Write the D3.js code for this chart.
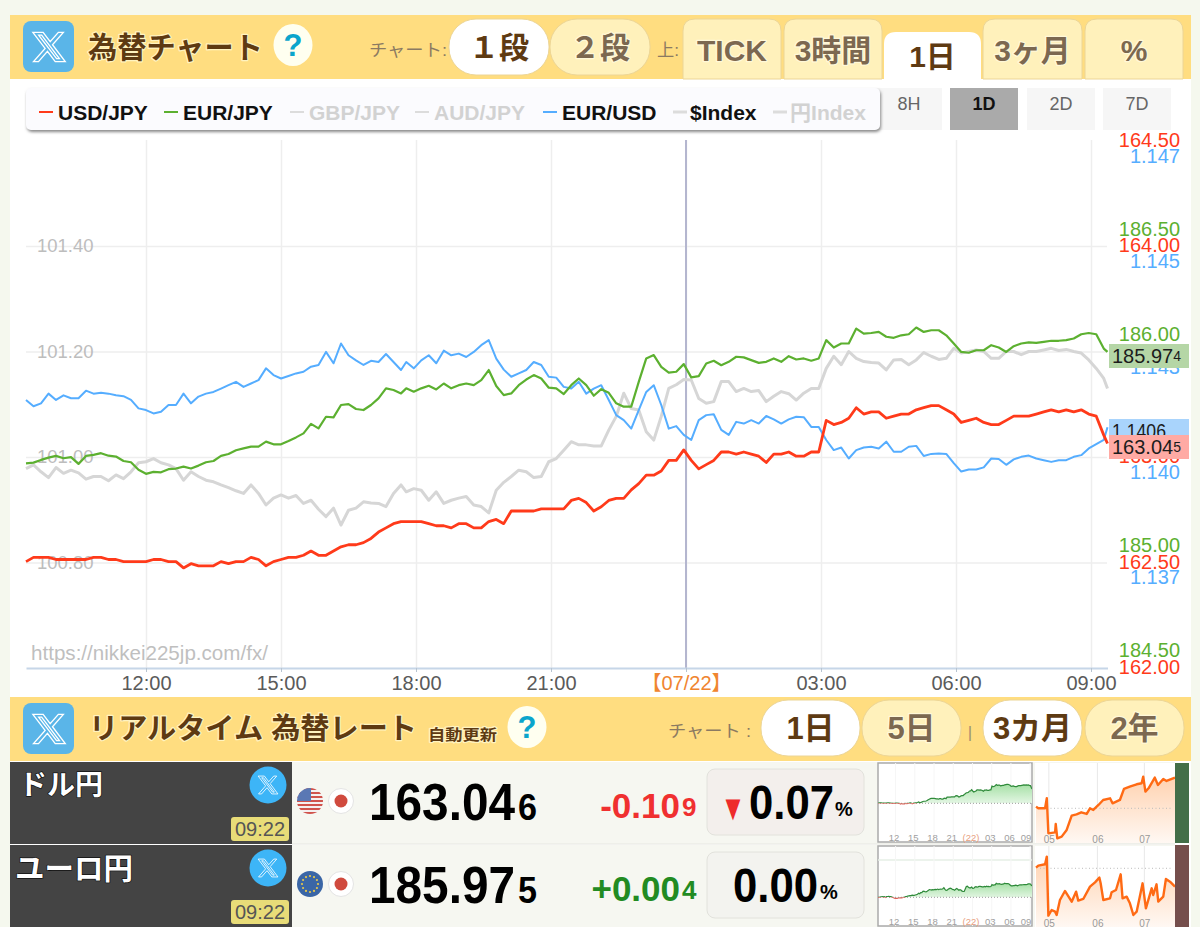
<!DOCTYPE html>
<html>
<head>
<meta charset="utf-8">
<script src="https://cdn.jsdelivr.net/npm/d3@7"></script>
<style>
  body { margin: 0; background: #f5f8ee; }
  svg { display: block; }
  text { font-family: "Liberation Sans", "Noto Sans CJK JP", sans-serif; }
</style>
</head>
<body>
<svg id="page" width="1200" height="927"></svg>
<script>
// sample times, minutes after 09:20 on 07/21
const minutes = [...d3.range(0, 510, 10), ...d3.range(507, 1037, 10), ...d3.range(1037, 1447, 10), 1442];

const usdJpy = [
  162.50,162.52,162.52,162.52,162.51,162.51,162.51,162.51,162.51,162.52,162.52,162.51,162.51,162.50,162.50,162.50,162.50,
  162.51,162.51,162.50,162.50,162.47,162.49,162.48,162.48,162.48,162.50,162.49,162.50,162.50,162.52,162.51,162.48,162.50,
  162.51,162.52,162.52,162.53,162.55,162.53,162.53,162.55,162.57,162.58,162.58,162.59,162.61,162.64,162.66,162.68,162.69,
  162.69,162.69,162.69,162.68,162.67,162.67,162.66,162.68,162.68,162.66,162.66,162.69,162.70,162.68,162.74,162.74,162.74,
  162.74,162.75,162.75,162.75,162.75,162.79,162.80,162.78,162.74,162.76,162.79,162.80,162.80,162.84,162.87,162.91,162.91,
  162.93,162.98,162.98,163.03,162.98,162.94,162.96,162.98,163.02,163.02,163.01,163.02,163.01,163.00,162.97,163.01,163.01,
  163.02,163.00,
  163.00,163.02,163.02,163.17,163.15,163.16,163.18,163.23,163.20,163.21,163.21,163.18,163.19,163.20,163.20,163.22,163.23,
  163.24,163.24,163.22,163.20,163.16,163.17,163.18,163.16,163.15,163.15,163.17,163.19,163.19,163.19,163.20,163.21,163.22,
  163.21,163.22,163.21,163.22,163.20,163.19,163.10,163.06
];

const eurJpy = [
  185.387,185.390,185.403,185.414,185.422,185.411,185.416,185.384,185.422,185.427,185.435,185.423,185.419,185.398,185.392,
  185.356,185.337,185.346,185.344,185.359,185.362,185.371,185.362,185.376,185.392,185.398,185.422,185.431,185.449,185.458,
  185.466,185.466,185.490,185.477,185.477,185.493,185.510,185.529,185.574,185.553,185.608,185.605,185.664,185.668,185.645,
  185.640,185.664,185.695,185.743,185.735,185.719,
  185.743,185.727,185.743,185.755,185.738,185.766,185.743,185.758,185.766,185.758,185.782,185.830,185.754,185.711,185.719,
  185.758,185.785,185.806,185.790,185.746,185.743,185.716,185.758,185.790,185.758,185.708,185.739,185.722,185.672,185.656,
  185.656,185.774,185.885,185.901,185.845,185.818,185.822,185.858,185.795,185.801,185.861,185.874,185.853,185.869,185.893,
  185.890,185.877,185.864,185.869,185.885,185.869,185.896,185.880,
  185.885,185.874,185.885,185.972,185.937,185.956,185.956,186.027,186.003,186.006,186.011,185.988,185.983,185.995,186.000,
  186.032,186.011,186.019,186.019,185.995,185.956,185.916,185.912,185.924,185.924,185.948,185.937,185.916,185.943,185.956,
  185.961,185.959,185.964,185.969,185.969,185.972,185.980,186.000,186.006,186.000,185.932,185.916
];

const eurUsd = [
  1.14171,1.14156,1.14163,1.14186,1.14171,1.14182,1.14175,1.14175,1.14193,1.14186,1.14188,1.14186,1.14182,1.14180,1.14171,
  1.14151,1.14147,1.14139,1.14143,1.14159,1.14159,1.14186,1.14163,1.14179,1.14186,1.14190,1.14198,1.14206,1.14214,1.14202,
  1.14210,1.14218,1.14246,1.14230,1.14222,1.14228,1.14234,1.14238,1.14250,1.14254,1.14285,1.14258,1.14305,1.14277,1.14265,
  1.14254,1.14264,1.14261,1.14280,1.14261,1.14242,
  1.14261,1.14246,1.14265,1.14277,1.14258,1.14288,1.14277,1.14281,1.14273,1.14285,1.14301,1.14313,1.14269,1.14243,1.14226,
  1.14234,1.14242,1.14261,1.14254,1.14226,1.14224,1.14202,1.14198,1.14214,1.14186,1.14198,1.14206,1.14171,1.14135,1.14123,
  1.14103,1.14147,1.14190,1.14206,1.14159,1.14103,1.14109,1.14088,1.14076,1.14123,1.14135,1.14137,1.14100,1.14088,1.14119,
  1.14115,1.14123,1.14115,1.14133,1.14125,1.14115,1.14125,1.14131,
  1.14130,1.14107,1.14107,1.14076,1.14052,1.14058,1.14032,1.14052,1.14058,1.14060,1.14056,1.14072,1.14048,1.14048,1.14060,
  1.14062,1.14038,1.14043,1.14044,1.14043,1.14021,1.14001,1.14006,1.14006,1.14011,1.14032,1.14031,1.14017,1.14030,1.14036,
  1.14039,1.14032,1.14028,1.14024,1.14028,1.14028,1.14036,1.14040,1.14056,1.14066,1.14076,1.14106
];

const dollarIndex = [
  100.978,100.985,100.972,100.961,100.980,100.969,100.975,100.970,100.958,100.963,100.963,100.955,100.966,100.959,100.972,
  100.989,100.991,100.997,100.989,100.985,100.978,100.956,100.972,100.963,100.956,100.953,100.947,100.942,100.936,100.931,
  100.947,100.931,100.909,100.922,100.928,100.922,100.927,100.912,100.918,100.901,100.887,100.903,100.871,100.899,100.903,
  100.915,100.913,100.912,100.906,100.931,100.947,
  100.934,100.940,100.937,100.918,100.934,100.912,100.918,100.922,100.925,100.909,100.906,100.894,100.937,100.952,100.963,
  100.975,100.972,100.961,100.963,100.991,100.997,101.013,101.029,101.023,101.023,101.021,101.021,101.051,101.077,101.121,
  101.092,101.089,101.048,101.032,101.077,101.130,101.137,101.147,101.146,101.111,101.102,101.105,101.143,101.143,101.124,
  101.130,101.124,101.126,101.105,101.115,101.124,101.120,101.108,
  101.121,101.130,101.130,101.168,101.191,101.175,101.200,101.187,101.181,101.179,101.178,101.165,101.184,101.185,101.175,
  101.184,101.198,101.191,101.185,101.187,101.206,101.197,101.200,101.203,101.200,101.187,101.187,101.200,101.200,101.194,
  101.200,101.200,101.203,101.206,101.202,101.204,101.200,101.197,101.184,101.168,101.149,101.130
];

const hourTicks = [160, 340, 520, 700, 880, 1060, 1240, 1420];
const hourLabels = ['12:00', '15:00', '18:00', '21:00', '【07/22】', '03:00', '06:00', '09:00'];
const indexTicks = [100.8, 101.0, 101.2, 101.4];
const usdTicks = [162, 162.5, 163, 163.5, 164, 164.5];
const eurTicks = [184.5, 185, 185.5, 186, 186.5];
const eurUsdTicks = [1.1375, 1.14, 1.1425, 1.145, 1.1475];
const eurUsdLabels = ['1.137', '1.140', '1.143', '1.145', '1.147'];

const legendNames = ['USD/JPY', 'EUR/JPY', 'GBP/JPY', 'AUD/JPY', 'EUR/USD', '$Index', '円Index'];
const rangeLabels = ['8H', '1D', '2D', '7D'];
const tabLabels = ['TICK', '3時間', '1日', '3ヶ月', '%'];
const miniLabels = ['12', '15', '18', '21', '(22)', '03', '06', '09'];

// 3 month sparks: day number from 05/01 and rough % from the dotted line
const usdDays = [-7.9,-6.4,-2.1,-1,0,4.3,4.7,5.7,8.5,11.7,14.9,18,21,24.5,26.6,28.7,32,35,39.4,41,45.7,48.3,52,56.4,59.6,60.6,62,64,68,70,73.4,75.5,80.9];
const usdPct = [.25,0,0,1.5,-3.75,-3.6,-2.35,-4.5,-4.25,-3.25,-1.1,-.9,-.6,-.85,0,-.25,.5,1.25,1.5,.75,1.25,2.9,3.25,3.6,3.75,4.75,2.5,3,4.6,3.5,4.4,4.1,4.6];
const eurDays = [-7.9,-6.4,-2.1,-1,0,2.1,4.3,5.3,7.4,10.6,14.9,17.7,19.1,22.3,26.6,29.8,32.6,33.4,35.1,39.4,40.4,43.2,46.2,47.4,50,52.1,54.3,56.4,60.2,62.3,66,67,69.1,70.2,73.4,75.1,77.7,80.9];
const eurPct = [.1,.4,.6,1.75,-7.1,-6.25,-6.5,-7,-4.75,-3.4,-5,-3.5,-4.85,-4.6,-2.75,-2.1,-1.4,-2.25,-4.75,-4.5,-3.6,-3.25,-.9,-4.5,-4.25,-5.25,-7,-6.5,-2.25,-6,-3,-4,-2.4,-5,-4.25,-1.6,-2,-2.75];
const monthTicks = [0, 31, 61];
const monthLabels = ['05', '06', '07'];

const RED = '#ff3a1a', GREEN = '#5cb030', BLUE = '#55adff', GREY = '#d6d6d6';
const BROWN = '#5e3a12', TAN = '#7c6850';
const X_PATH = 'M18.244 2.25h3.308l-7.227 8.26 8.502 11.24H16.17l-5.214-6.817L4.99 21.75H1.68l7.73-8.835L1.254 2.25H8.08l4.713 6.231zm-1.161 17.52h1.833L7.084 4.126H5.117z';

const svg = d3.select('#page');
const defs = svg.append('defs');

function label(parent, x, y, str, size, color, opts = {}) {
  const t = parent.append('text')
    .attr('x', x).attr('y', y)
    .attr('dominant-baseline', 'central')
    .attr('text-anchor', opts.anchor || 'start')
    .attr('font-size', size)
    .attr('font-weight', opts.bold ? 'bold' : 'normal')
    .attr('fill', color)
    .text(str);
  if (opts.halo) {
    t.attr('stroke', opts.halo).attr('stroke-width', opts.haloWidth || 2.5).attr('paint-order', 'stroke').attr('stroke-linejoin', 'round');
  }
  if (opts.length) {
    t.attr('textLength', opts.length).attr('lengthAdjust', 'spacingAndGlyphs');
  }
  return t;
}

function xIcon(x, y, size) {
  svg.append('path').attr('d', X_PATH).attr('fill', 'none').attr('stroke', '#fff').attr('stroke-width', 0.9)
    .attr('transform', `translate(${x},${y}) scale(${size / 24})`);
}

function pill(x, y, w, h, str, active, size) {
  svg.append('rect').attr('x', x).attr('y', y).attr('width', w).attr('height', h).attr('rx', 27)
    .attr('fill', active ? '#fff' : '#fff1bb').attr('stroke', '#ecd596');
  label(svg, x + w / 2, y + h / 2, str, size, active ? BROWN : TAN, { anchor: 'middle', bold: true, halo: active ? '#fff' : '#fff8d8' });
}

function helpBubble(cx, cy) {
  svg.append('ellipse').attr('cx', cx).attr('cy', cy).attr('rx', 19.5).attr('ry', 21).attr('fill', '#fffff0');
  label(svg, cx, cy, '?', 31, '#0ba5cc', { anchor: 'middle', bold: true });
}

// page panels
svg.append('rect').attr('x', 10).attr('y', 15).attr('width', 1181).attr('height', 912).attr('fill', '#fff');
svg.append('rect').attr('x', 10).attr('y', 15).attr('width', 1181).attr('height', 64).attr('fill', '#ffdd80');
svg.append('rect').attr('x', 10).attr('y', 697).attr('width', 1181).attr('height', 64).attr('fill', '#ffdd80');

// top header
svg.append('rect').attr('x', 23).attr('y', 21).attr('width', 51).attr('height', 51).attr('rx', 8).attr('fill', '#5ab5e8');
xIcon(31, 29, 36);
label(svg, 88, 47, '為替チャート', 30, BROWN, { bold: true, halo: '#fff3c0', length: 175 });
helpBubble(293, 45);
label(svg, 369, 50, 'チャート:', 17, '#8b7a62', { length: 78 });
pill(449, 19, 100, 56, '１段', true, 30);
pill(550, 19, 100, 56, '２段', false, 30);
label(svg, 657, 50, '上:', 17, '#8b7a62', { length: 22 });

const tabX = [683, 784, 884, 983, 1085];
const tabW = [98, 98, 97, 99, 98];
tabLabels.forEach((tab, i) => {
  const active = i === 2;
  const top = active ? 32 : 19;
  const [x, w] = [tabX[i], tabW[i]];
  svg.append('path')
    .attr('d', `M${x},79V${top + 12}Q${x},${top} ${x + 12},${top}H${x + w - 12}Q${x + w},${top} ${x + w},${top + 12}V79Z`)
    .attr('fill', active ? '#fff' : '#fff1bb').attr('stroke', active ? 'none' : '#ecd596');
  label(svg, x + w / 2, active ? 56 : 50, tab, 30, active ? BROWN : TAN, { anchor: 'middle', bold: true, halo: active ? '#fff' : '#fff8d8' });
});

// main chart
const x = d3.scaleLinear().domain([0, 1442]).range([26, 1107.5]);
const yUsd = d3.scaleLinear().domain([162, 164.5]).range([667, 140]);
const yEur = d3.scaleLinear().domain([184.5, 186.5]).range([650, 229]);
const yEurUsd = d3.scaleLinear().domain([1.14, 1.1475]).range([472, 156]);
const yIndex = d3.scaleLinear().domain([101, 101.4]).range([457, 246]);

const gridX = svg.append('g').attr('transform', 'translate(0,668)')
  .call(d3.axisBottom(x).tickValues(hourTicks).tickSize(-528).tickFormat(''));
gridX.select('.domain').remove();
gridX.selectAll('line').attr('stroke', '#eeeeee').attr('stroke-width', 1.5);

const gridY = svg.append('g').attr('transform', 'translate(26,0)')
  .call(d3.axisRight(yIndex).tickValues(indexTicks).tickSize(1081).tickFormat(''));
gridY.select('.domain').remove();
gridY.selectAll('line').attr('stroke', '#eeeeee').attr('stroke-width', 1.5);

svg.append('line').attr('x1', x(880)).attr('x2', x(880)).attr('y1', 140).attr('y2', 668)
  .attr('stroke', '#b4b6cf').attr('stroke-width', 2);

const xAxis = svg.append('g').attr('transform', 'translate(0,668)')
  .call(d3.axisBottom(x).tickValues(hourTicks).tickSize(4).tickPadding(3.5).tickSizeOuter(0)
    .tickFormat((d, i) => hourLabels[i]));
xAxis.select('.domain').attr('stroke', '#c6d6e8').attr('stroke-width', 2);
xAxis.selectAll('line').attr('stroke', '#b8c4d0');
xAxis.selectAll('text').attr('font-size', 20).attr('font-family', null)
  .attr('fill', (d, i) => i === 4 ? '#f08530' : '#5a5a5a');

const indexAxis = svg.append('g').attr('transform', 'translate(37,0)')
  .call(d3.axisRight(yIndex).tickValues(indexTicks).tickSize(0).tickPadding(0).tickFormat(d3.format('.2f')));
indexAxis.select('.domain').remove();
indexAxis.selectAll('text').attr('font-size', 18.5).attr('font-family', null).attr('fill', '#bdbdbd');

const lineOf = (values, y) => d3.line().x((d, i) => x(minutes[i])).y(d => y(d))(values);
const mainLines = [
  [dollarIndex, yIndex, GREY, 3],
  [eurUsd, yEurUsd, BLUE, 2],
  [eurJpy, yEur, GREEN, 2.2],
  [usdJpy, yUsd, RED, 2.8]
];
mainLines.forEach(([values, y, color, width]) => {
  svg.append('path').attr('d', lineOf(values, y)).attr('fill', 'none')
    .attr('stroke', color).attr('stroke-width', width).attr('stroke-linejoin', 'round');
});

function rightAxis(y, ticks, color, fmt) {
  const g = svg.append('g').attr('transform', 'translate(1180,0)')
    .call(d3.axisLeft(y).tickValues(ticks).tickSize(0).tickPadding(0).tickFormat(fmt));
  g.select('.domain').remove();
  g.selectAll('text').attr('font-size', 20).attr('font-family', null).attr('fill', color);
}
rightAxis(yEur, eurTicks, GREEN, d3.format('.2f'));
rightAxis(yUsd, usdTicks, RED, d3.format('.2f'));
rightAxis(yEurUsd, eurUsdTicks, BLUE, (d, i) => eurUsdLabels[i]);

label(svg, 31, 652, 'https://nikkei225jp.com/fx/', 20.6, '#bfbfbf');

// current value tags
function priceTag(top, fill, big, small) {
  svg.append('rect').attr('x', 1109).attr('y', top).attr('width', 80).attr('height', 24).attr('fill', fill);
  const t = label(svg, 1112, top + 12, big, 20, '#1c1c1c', { length: small ? undefined : 54 });
  if (small) t.append('tspan').attr('font-size', 14).text(small);
}
priceTag(344, '#b5d6a6', '185.97', '4');
priceTag(419, '#a9d4fc', '1.1406');
priceTag(435, '#ffaaa4', '163.04', '5');

// legend box
defs.append('filter').attr('id', 'legendShadow').attr('x', '-2%').attr('y', '-20%').attr('width', '104%').attr('height', '150%')
  .append('feDropShadow').attr('dx', 1).attr('dy', 2).attr('stdDeviation', 1.5).attr('flood-color', '#888');
const rangeX = [875, 950, 1027, 1103];
rangeLabels.forEach((r, i) => {
  const on = i === 1;
  svg.append('rect').attr('x', rangeX[i]).attr('y', 88).attr('width', i === 0 ? 67 : 68).attr('height', 42)
    .attr('fill', on ? '#aaaaaa' : '#f6f6f6');
  label(svg, rangeX[i] + 34, 104, r, 18, on ? '#111' : '#666', { anchor: 'middle', bold: on });
});
svg.append('rect').attr('x', 26).attr('y', 88).attr('width', 854).attr('height', 42).attr('rx', 5)
  .attr('fill', '#fbfbfe').attr('filter', 'url(#legendShadow)');

const legendX = [39, 164, 290, 415, 543, 673, 773];
const legendOn = [RED, GREEN, null, null, BLUE, null, null];
legendNames.forEach((name, i) => {
  const isDollar = name === '$Index';
  svg.append('line').attr('x1', legendX[i]).attr('x2', legendX[i] + 14).attr('y1', 112).attr('y2', 112)
    .attr('stroke', legendOn[i] || '#dcdcdc').attr('stroke-width', i > 4 ? 3 : 2);
  label(svg, legendX[i] + (i > 4 ? 17 : 19), 112, name, 21,
    legendOn[i] || isDollar ? '#111' : '#d2d2d2', { bold: true, length: name === '円Index' ? 76 : undefined });
});

// rate header
svg.append('rect').attr('x', 23).attr('y', 703).attr('width', 51).attr('height', 51).attr('rx', 8).attr('fill', '#5ab5e8');
xIcon(31, 711, 36);
label(svg, 89, 729, 'リアルタイム 為替レート', 29, BROWN, { bold: true, halo: '#fff3c0', length: 328 });
label(svg, 428, 734, '自動更新', 15, BROWN, { bold: true, halo: '#fff3c0', length: 69 });
helpBubble(527, 727);
label(svg, 668, 731, 'チャート :', 17, '#8b7a62', { length: 83 });
pill(761, 700, 99, 56, '1日', true, 31);
pill(862, 700, 99, 56, '5日', false, 31);
label(svg, 970, 732, '|', 17, '#a09070', { anchor: 'middle' });
pill(983, 700, 99, 56, '3カ月', true, 31);
pill(1085, 700, 99, 56, '2年', false, 31);

// rate rows
function flagJp(cx, cy) {
  svg.append('circle').attr('cx', cx).attr('cy', cy).attr('r', 12.5).attr('fill', '#fff').attr('stroke', '#e4e4e4');
  svg.append('circle').attr('cx', cx).attr('cy', cy).attr('r', 6.5).attr('fill', '#d04a3e');
}

function flagUs(cx, cy) {
  defs.append('clipPath').attr('id', 'usClip').append('circle').attr('cx', cx).attr('cy', cy).attr('r', 13);
  const g = svg.append('g').attr('clip-path', 'url(#usClip)');
  g.append('rect').attr('x', cx - 13).attr('y', cy - 13).attr('width', 26).attr('height', 26).attr('fill', '#f4f0f0');
  d3.range(0, 7).forEach(i => {
    g.append('rect').attr('x', cx - 13).attr('y', cy - 13 + i * 4).attr('width', 26).attr('height', 2).attr('fill', '#d0534c');
  });
  g.append('rect').attr('x', cx - 13).attr('y', cy - 13).attr('width', 14).attr('height', 13).attr('fill', '#5a78b4');
}

function flagEu(cx, cy) {
  svg.append('circle').attr('cx', cx).attr('cy', cy).attr('r', 13).attr('fill', '#3a66a6');
  d3.range(12).forEach(i => {
    const a = i * Math.PI / 6;
    svg.append('circle').attr('cx', cx + 8 * Math.cos(a)).attr('cy', cy + 8 * Math.sin(a)).attr('r', 1.1).attr('fill', '#e8c84a');
  });
}

function rateRow(top, height, name, nameX, nameSize, price, priceSmall, change, changeSmall, changeColor, pct, down) {
  const mid = top + 39;
  svg.append('rect').attr('x', 10).attr('y', top).attr('width', 1165).attr('height', height).attr('fill', '#f6f7f1');
  svg.append('rect').attr('x', 10).attr('y', top).attr('width', 282).attr('height', height).attr('fill', '#444444');
  label(svg, nameX, top + 23, name, nameSize, '#fff', { bold: true, halo: '#111', haloWidth: 1.5 });
  svg.append('circle').attr('cx', 268).attr('cy', top + 23).attr('r', 18.5).attr('fill', '#3db5f7');
  xIcon(257, top + 12, 22);
  svg.append('rect').attr('x', 231).attr('y', top + 55).attr('width', 58).attr('height', 24).attr('rx', 3).attr('fill', '#e8dc78');
  label(svg, 260, top + 67, '09:22', 20, '#555', { anchor: 'middle' });
  label(svg, 369, mid + 1, price, 52, '#000', { bold: true, length: 146 });
  label(svg, 518, mid + 6, priceSmall, 36, '#000', { bold: true, length: 19 });
  label(svg, 680, mid + 4, change, 35, changeColor, { anchor: 'end', bold: true });
  label(svg, 682, mid + 6, changeSmall, 26, changeColor, { bold: true });
  svg.append('rect').attr('x', 707).attr('y', top + 7).attr('width', 157).attr('height', 66).attr('rx', 8)
    .attr('fill', down ? '#f3efec' : '#f3f3ef').attr('stroke', '#e2e2dc');
  if (down) {
    label(svg, 733, mid + 6, '▼', 36, '#ee2b2b', { anchor: 'middle', length: 25 });
    label(svg, 749, mid + 1, pct, 48, '#000', { bold: true, length: 85 });
    label(svg, 835, mid + 8, '%', 20, '#000', { bold: true });
  } else {
    label(svg, 733, mid + 1, pct, 48, '#000', { bold: true, length: 85 });
    label(svg, 820, mid + 8, '%', 20, '#000', { bold: true });
  }
}
rateRow(762, 82, 'ドル円', 19, 28, '163.04', '6', '-0.10', '9', '#f03030', '0.07', true);
rateRow(845, 82, 'ユーロ円', 15, 29.5, '185.97', '5', '+0.00', '4', '#228b22', '0.00', false);
svg.append('line').attr('x1', 292).attr('x2', 1175).attr('y1', 844).attr('y2', 844).attr('stroke', '#e6e6e0');
flagUs(310, 801);
flagJp(341, 801);
flagEu(310, 884);
flagJp(341, 884);

// 1 day sparks
const fade = defs.append('linearGradient').attr('id', 'dayFill').attr('x1', 0).attr('x2', 0).attr('y1', 0).attr('y2', 1);
fade.append('stop').attr('offset', 0).attr('stop-color', '#a6e0a6');
fade.append('stop').attr('offset', 1).attr('stop-color', '#e6f7e6');

const miniX = d3.scaleLinear().domain([0, 1442]).range([878, 1032]);

function daySpark(id, top, bottom, values, y, base, extraLine) {
  svg.append('rect').attr('x', 878).attr('y', top).attr('width', 154).attr('height', bottom - top)
    .attr('fill', '#fff').attr('stroke', '#aaaaaa').attr('stroke-width', 1.5);
  const baseY = y(base);
  if (extraLine) {
    svg.append('line').attr('x1', 878).attr('x2', 1032).attr('y1', extraLine).attr('y2', extraLine).attr('stroke', '#e6efe6').attr('stroke-width', 1.5);
  }
  const miniAxis = svg.append('g').attr('transform', `translate(0,${bottom})`)
    .call(d3.axisTop(miniX).tickValues(hourTicks).tickSize(bottom - top).tickFormat(''));
  miniAxis.select('.domain').remove();
  miniAxis.selectAll('line').attr('stroke', '#f6f6f6');

  defs.append('clipPath').attr('id', id + 'Up').append('rect').attr('x', 878).attr('y', top).attr('width', 154).attr('height', baseY - top);
  defs.append('clipPath').attr('id', id + 'Down').append('rect').attr('x', 878).attr('y', baseY).attr('width', 154).attr('height', bottom - baseY);

  const area = d3.area().x((d, i) => miniX(minutes[i])).y0(baseY).y1(d => y(d));
  const line = d3.line().x((d, i) => miniX(minutes[i])).y(d => y(d));
  svg.append('path').attr('d', area(values)).attr('fill', 'url(#dayFill)').attr('clip-path', `url(#${id}Up)`);
  svg.append('line').attr('x1', 880).attr('x2', 1031).attr('y1', baseY).attr('y2', baseY)
    .attr('stroke', '#999').attr('stroke-dasharray', '1 2');
  svg.append('path').attr('d', line(values)).attr('fill', 'none').attr('stroke', '#2f8a3a').attr('stroke-width', 1.2).attr('clip-path', `url(#${id}Up)`);
  svg.append('path').attr('d', line(values)).attr('fill', 'none').attr('stroke', '#e0605a').attr('stroke-width', 1.2).attr('clip-path', `url(#${id}Down)`);

  hourTicks.forEach((m, i) => {
    label(svg, Math.min(miniX(m) - 1, 1026), bottom - 5, miniLabels[i], 9.5, i === 4 ? '#e8a080' : '#a0a0a0', { anchor: 'middle' });
  });
}
daySpark('usdDay', 763, 842, usdJpy, d3.scaleLinear().domain([162.5, 163.24]).range([803.3, 784.3]), 162.5);
daySpark('eurDay', 846, 926, eurJpy, d3.scaleLinear().domain([185.39, 186.03]).range([897.3, 883.3]), 185.39, 860);

// 3 month sparks
const monthX = d3.scaleLinear().domain([-7.9, 80.9]).range([1036, 1175]);
const orange = defs.append('linearGradient').attr('id', 'monthFill').attr('x1', 0).attr('x2', 0).attr('y1', 0).attr('y2', 1);
orange.append('stop').attr('offset', 0).attr('stop-color', '#ffd2b0');
orange.append('stop').attr('offset', 1).attr('stop-color', '#fff8f3');

function monthSpark(top, bottom, days, pct, baseY) {
  const y = d3.scaleLinear().domain([0, 1]).range([baseY, baseY - 6.67]);
  svg.append('rect').attr('x', 1035).attr('y', top).attr('width', 140).attr('height', bottom - top).attr('fill', '#fff');
  const axis = svg.append('g').attr('transform', `translate(0,${bottom})`)
    .call(d3.axisTop(monthX).tickValues(monthTicks).tickSize(bottom - top).tickFormat(''));
  axis.select('.domain').remove();
  axis.selectAll('line').attr('stroke', '#e8e8e8');
  const pairs = d3.zip(days, pct);
  const area = d3.area().x(d => monthX(d[0])).y0(bottom).y1(d => y(d[1]));
  const line = d3.line().x(d => monthX(d[0])).y(d => y(d[1]));
  svg.append('path').attr('d', area(pairs)).attr('fill', 'url(#monthFill)');
  svg.append('line').attr('x1', 1040).attr('x2', 1173).attr('y1', baseY).attr('y2', baseY)
    .attr('stroke', '#bbb').attr('stroke-dasharray', '1 2.5');
  svg.append('path').attr('d', line(pairs)).attr('fill', 'none').attr('stroke', '#ff6a14').attr('stroke-width', 2.4).attr('stroke-linejoin', 'round');
  monthTicks.forEach((d, i) => label(svg, monthX(d) + 1, bottom - 4, monthLabels[i], 10, '#999', { anchor: 'middle' }));
}
monthSpark(763, 843, usdDays, usdPct, 808.3);
monthSpark(846, 927, eurDays, eurPct, 868.3);

svg.append('rect').attr('x', 1175).attr('y', 763).attr('width', 14).attr('height', 80).attr('fill', '#436e48');
svg.append('rect').attr('x', 1175).attr('y', 845).attr('width', 14).attr('height', 82).attr('fill', '#754e4c');
</script>
</body>
</html>
